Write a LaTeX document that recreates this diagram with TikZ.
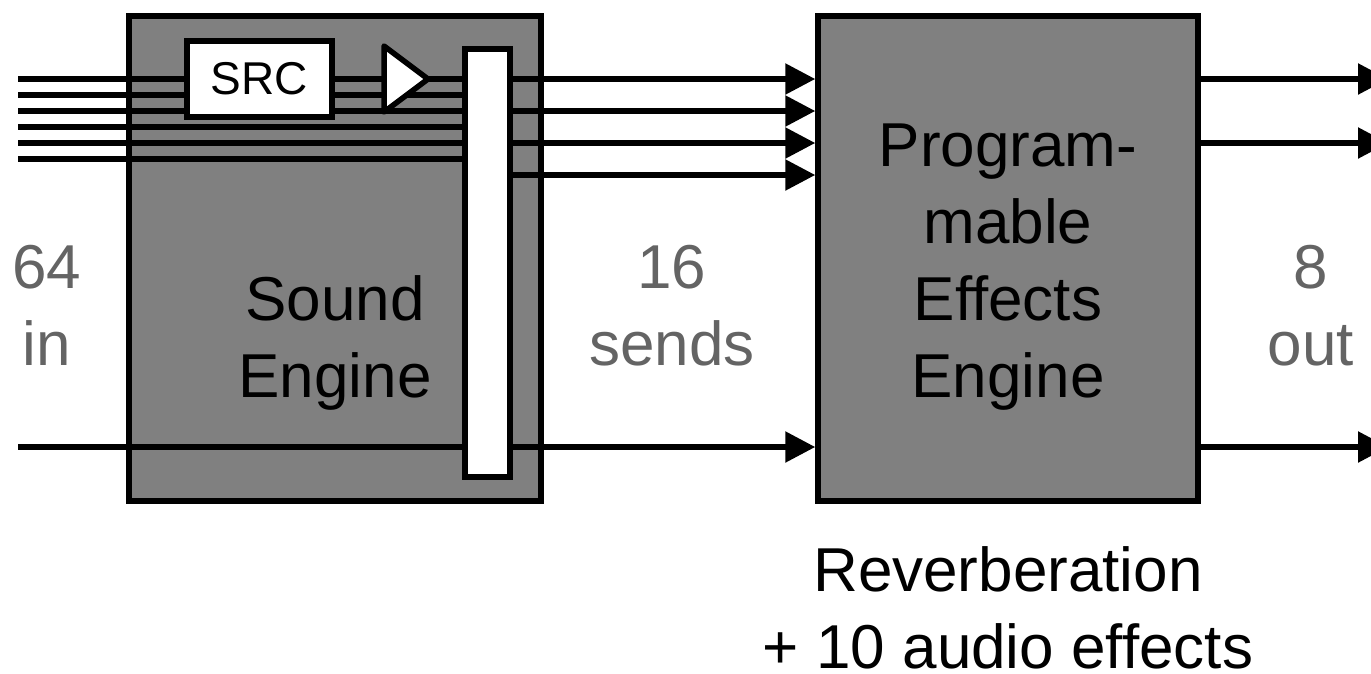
\documentclass[tikz,border=0pt]{standalone}
\usepackage{fontspec}
\setmainfont{Liberation Sans}
\usetikzlibrary{arrows.meta}
\definecolor{boxgray}{RGB}{128,128,128}
\definecolor{labgray}{RGB}{100,100,100}
\begin{document}
\begin{tikzpicture}[x=1pt,y=-1pt,
  lw/.style={line width=5.5pt},
  engine/.style={draw,lw,fill=boxgray,inner sep=0pt},
  wbox/.style={draw,lw,fill=white,inner sep=0pt},
  sig/.style={lw},
  arr/.style={lw,-{Triangle[length=30pt,width=30pt]}},
  big/.style={font=\fontsize{62}{77}\selectfont,align=center,inner sep=0pt},
  lab/.style={big,text=labgray}]
\useasboundingbox (0,0) rectangle (1371,673);
\clip (0,0) rectangle (1371,673);
% boxes
\node[engine,minimum width=412pt,minimum height=485pt] (se) at (335,258.5) {};
\node[engine,minimum width=380pt,minimum height=485pt] (fx) at (1008,258.5) {};
\node[wbox,minimum width=45pt,minimum height=428pt] (bar) at (487.5,263) {};
% input lines
\foreach \y [count=\i] in {79,95,111,127,143,159,447} {
  \coordinate (in\i) at (18,\y);
  \draw[sig] (in\i) -- (in\i -| bar.west);
}
% SRC and amplifier
\node[wbox,minimum width=145pt,minimum height=76pt,font=\fontsize{46}{50}\selectfont] (src) at (259.5,79) {SRC};
\draw[lw,fill=white,line join=round] (384,46) -- (384,112) -- (428,79) -- cycle;
% sends
\foreach \y [count=\i] in {79,111,143,175,447} {
  \coordinate (s\i) at (0,\y);
  \draw[arr] (s\i -| bar.east) -- (s\i -| fx.west);
}
% outputs
\foreach \y [count=\i] in {79,143,447} {
  \coordinate (o\i) at (1388,\y);
  \draw[arr] (o\i -| fx.east) -- (o\i);
}
% texts (anchor=base is the baseline of the last line)
\node[lab,anchor=base] (t64) at (47,365) {64\\in};
\node[big,anchor=base] (tse) at (335,397) {Sound\\Engine};
\node[lab,anchor=base] (t16) at (672,365) {16\\sends};
\node[big,anchor=base] (tfx) at (1008,397) {Program-\\mable\\Effects\\Engine};
\node[lab,anchor=base] (t8) at (1311,365) {8\\out};
\node[big,anchor=base] (trev) at (1008,668) {Reverberation\\+ 10 audio effects};
\end{tikzpicture}
\end{document}
